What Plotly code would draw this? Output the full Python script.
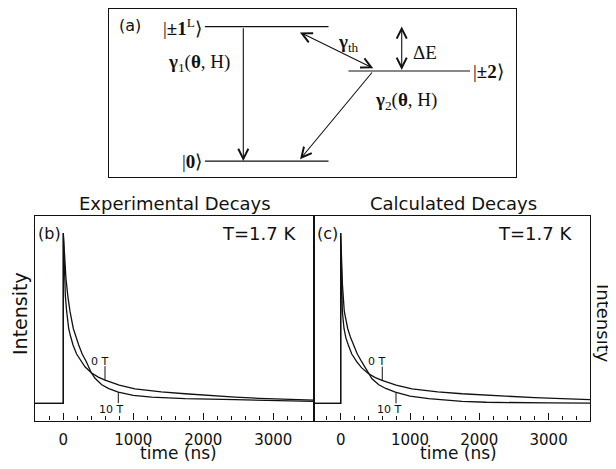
import numpy as np
import plotly.graph_objects as go

# ---------------- data ----------------
# Intensity normalised: baseline = 0, peak = 1 ; time in ns
exp_0T_t = [-420, 0, 0, 10, 19, 30, 48, 77, 100, 139, 190, 257, 310, 400, 500, 596, 800,
            1024, 1400, 1739, 2100, 2453, 2800, 3167, 3600]
exp_0T_y = [0, 0, 1.0, 0.85, 0.735, 0.63, 0.54, 0.44, 0.40, 0.343, 0.29, 0.245, 0.215, 0.18,
            0.155, 0.137, 0.108, 0.086, 0.068, 0.057, 0.046, 0.037, 0.030, 0.024, 0.019]

exp_10T_t = [-420, 0, 0, 15, 38, 65, 96, 143, 180, 220, 270, 329, 400, 453, 550, 650, 786,
             1000, 1262, 1739, 2453, 3167, 3600]
exp_10T_y = [0, 0, 1.0, 0.86, 0.735, 0.63, 0.54, 0.44, 0.39, 0.343, 0.29, 0.245, 0.18, 0.148,
             0.11, 0.087, 0.067, 0.048, 0.037, 0.028, 0.022, 0.015, 0.012]

calc_0T_t = [-420, 0, 0, 6, 12, 24, 48, 75, 110, 160, 231, 300, 398, 500, 596, 800, 1029,
             1400, 1750, 2100, 2472, 2800, 3193, 3650]
calc_0T_y = [0, 0, 1.0, 0.8, 0.66, 0.54, 0.44, 0.385, 0.343, 0.29, 0.245, 0.21, 0.176, 0.152,
             0.135, 0.108, 0.086, 0.068, 0.057, 0.048, 0.041, 0.034, 0.028, 0.022]

calc_10T_t = [-420, 0, 0, 10, 25, 52, 75, 101, 140, 182, 240, 303, 398, 452, 550, 650, 788,
              1000, 1270, 1500, 1750, 2100, 2500, 3000, 3650]
calc_10T_y = [0, 0, 1.0, 0.85, 0.7, 0.54, 0.49, 0.44, 0.39, 0.343, 0.29, 0.245, 0.176, 0.145,
              0.11, 0.088, 0.067, 0.043, 0.028, 0.019, 0.012, 0.007, 0.004, 0.003, 0.002]

field_labels = ["0 T", "10 T"]
exp_label_t = [596, 786]
calc_label_t = [600, 798]

panel_titles = ["Experimental Decays", "Calculated Decays"]
panel_tags = ["(b)", "(c)"]
temperature_text = "T=1.7 K"
x_tick_vals = [0, 1000, 2000, 3000]

# energy-level scheme (panel a): relative energies
level_names = ["|<b>±1</b><sup>L</sup>⟩", "|<b>±2</b>⟩", "|<b>0</b>⟩"]
level_energy = [1.0, 0.67, 0.0]
rate_labels = ["<b>γ</b><sub>1</sub>(<b>θ</b>, H)", "<b>γ</b><sub>th</sub>",
               "<b>γ</b><sub>2</sub>(<b>θ</b>, H)", "ΔE"]

# ---------------- figure ----------------
# the page body has an 8px margin, so the figure is laid out 8px smaller
OFF = 8
W, H = 608, 461
def px(x):
    return (x - OFF) / W
def py(y):
    return min(1.0, (H - (y - OFF)) / H)

BLACK = "#111111"
SANS = "DejaVu Sans"
SERIF = "Liberation Serif"

fig = go.Figure()

panels = [
    ("x", "y", exp_0T_t, exp_0T_y, exp_10T_t, exp_10T_y, exp_label_t),
    ("x2", "y2", calc_0T_t, calc_0T_y, calc_10T_t, calc_10T_y, calc_label_t),
]
annotations = []
for xa, ya, t0, y0, t10, y10, lab_t in panels:
    for tt, yy in ((t0, y0), (t10, y10)):
        fig.add_trace(go.Scatter(x=tt, y=yy, mode="lines", xaxis=xa, yaxis=ya,
                                 line=dict(color=BLACK, width=1.3), hoverinfo="skip",
                                 showlegend=False))
    # field labels with leader lines
    yc0 = float(np.interp(lab_t[0], t0, y0))
    yc10 = float(np.interp(lab_t[1], t10, y10))
    fig.add_trace(go.Scatter(x=[lab_t[0], lab_t[0]], y=[yc0, yc0 + 0.082], mode="lines",
                             xaxis=xa, yaxis=ya, line=dict(color=BLACK, width=1),
                             hoverinfo="skip", showlegend=False))
    fig.add_trace(go.Scatter(x=[lab_t[1], lab_t[1]], y=[yc10, yc10 - 0.065], mode="lines",
                             xaxis=xa, yaxis=ya, line=dict(color=BLACK, width=1),
                             hoverinfo="skip", showlegend=False))
    annotations.append(dict(xref=xa, yref=ya, x=lab_t[0] + 75, y=yc0 + 0.112,
                            text=field_labels[0], showarrow=False, xanchor="right",
                            yanchor="middle", font=dict(size=11, family=SANS, color=BLACK)))
    annotations.append(dict(xref=xa, yref=ya, x=lab_t[1] + 95, y=yc10 - 0.1,
                            text=field_labels[1], showarrow=False, xanchor="right",
                            yanchor="middle", font=dict(size=11, family=SANS, color=BLACK)))

# ---- panel (a): energy levels on their own axes ----
lev_x = [(2.35, 5.39), (5.88, 8.87), (2.35, 5.39)]
for (xa0, xa1), e in zip(lev_x, level_energy):
    fig.add_trace(go.Scatter(x=[xa0, xa1], y=[e, e], mode="lines", xaxis="x3", yaxis="y3",
                             line=dict(color=BLACK, width=1.2), hoverinfo="skip",
                             showlegend=False))

E1, E2, E0 = level_energy

def arrow(x, y, ax, ay, both=False):
    d = dict(xref="x3", yref="y3", axref="x3", ayref="y3", x=x, y=y, ax=ax, ay=ay,
             text="", showarrow=True, arrowhead=5, arrowsize=1.8, arrowwidth=1.1,
             arrowcolor=BLACK, standoff=0, startstandoff=0)
    if both:
        d.update(arrowside="end+start", startarrowhead=5, startarrowsize=1.8)
    return d

annotations += [
    arrow(3.295, E0, 3.295, E1),                            # gamma_1
    arrow(6.49, E2 + 0.02, 4.65, E1 - 0.037, both=True),    # gamma_th
    arrow(7.19, E2 + 0.008, 7.19, E1 + 0.013, both=True),   # Delta E
    arrow(4.69, E0 + 0.013, 6.49, E2),                      # gamma_2
]

serif_font = dict(family=SERIF, size=19, color=BLACK)
def lab3(x, y, text, xanchor="center", font=serif_font):
    return dict(xref="x3", yref="y3", x=x, y=y, text=text, showarrow=False,
                xanchor=xanchor, yanchor="middle", font=font)

annotations += [
    lab3(0.52, 1.01, "(a)", font=dict(family=SANS, size=16, color=BLACK)),
    lab3(2.33, E1, level_names[0], "right"),
    lab3(8.9, E2, level_names[1], "left"),
    lab3(2.33, E0, level_names[2], "right"),
    lab3(2.2, 0.73, rate_labels[0]),
    lab3(5.87, 0.88, rate_labels[1]),
    lab3(7.3, 0.45, rate_labels[2]),
    lab3(7.42, 0.81, rate_labels[3], "left"),
]

# ---- panel texts (b), (c) ----
def labp(x, y, text, size, xanchor="center", angle=0):
    return dict(xref="paper", yref="paper", x=px(x), y=py(y), text=text, showarrow=False,
                xanchor=xanchor, yanchor="middle", textangle=angle,
                font=dict(family=SANS, size=size, color=BLACK))

annotations += [
    labp(175, 203, panel_titles[0], 18),
    labp(453, 203, panel_titles[1], 18),
    labp(36, 233, panel_tags[0], 16, "left"),
    labp(315, 233, panel_tags[1], 16, "left"),
    labp(298, 233, temperature_text, 18, "right"),
    labp(574, 233, temperature_text, 18, "right"),
    labp(20, 314, "Intensity", 19, angle=-90),
    labp(604, 323, "Intensity", 18, angle=90),
    labp(178.5, 453, "time (ns)", 17),
    labp(458, 453, "time (ns)", 17),
]

xaxis_common = dict(showgrid=False, zeroline=False, showline=True, mirror=True,
                    linecolor=BLACK, linewidth=1.4, ticks="inside", ticklen=7,
                    tickwidth=1.1, tickcolor=BLACK, tickvals=x_tick_vals,
                    ticklabelstandoff=5,
                    tickfont=dict(family=SANS, size=15, color=BLACK),
                    minor=dict(dtick=200, tick0=0, ticks="inside", ticklen=4,
                               tickwidth=1, tickcolor=BLACK))
yaxis_common = dict(showgrid=False, zeroline=False, showline=True, mirror=True,
                    linecolor=BLACK, linewidth=1.4, ticks="", showticklabels=False,
                    range=[-0.1, 1.103])
box_axis = dict(showgrid=False, zeroline=False, showline=True, mirror=True,
                linecolor=BLACK, linewidth=1.3, ticks="", showticklabels=False)

y_dom = [py(420.5), py(215.5)]
fig.update_layout(
    width=W, height=H, margin=dict(l=0, r=0, t=0, b=0),
    paper_bgcolor="white", plot_bgcolor="white",
    showlegend=False,
    xaxis=dict(domain=[px(35), px(314)], range=[-404, 3581], anchor="y", **xaxis_common),
    yaxis=dict(domain=y_dom, anchor="x", **yaxis_common),
    xaxis2=dict(domain=[px(314), px(590)], range=[-385, 3597], anchor="y2", **xaxis_common),
    yaxis2=dict(domain=y_dom, anchor="x2", **yaxis_common),
    xaxis3=dict(domain=[px(109.3), px(516)], range=[0, 10], anchor="y3", **box_axis),
    yaxis3=dict(domain=[py(177.3), py(8.8)], range=[-0.121, 1.133], anchor="x3", **box_axis),
    annotations=annotations,
)

fig.write_html("out.html")
